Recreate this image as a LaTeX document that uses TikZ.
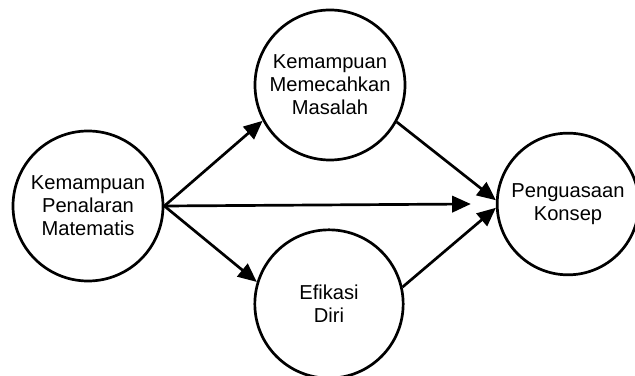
\documentclass[tikz,border=0pt]{standalone}
\usepackage{fontspec}
\setmainfont{Liberation Sans}
\usetikzlibrary{arrows.meta}

\begin{document}
\begin{tikzpicture}[
	x=0.03cm, y=-0.03cm,
	konstruk/.style={ circle, draw, line width=2.3pt, inner sep=0pt, align=center,
		font=\fontsize{17.2pt}{19.5pt}\selectfont },
	panah/.style={ line width=2.3pt, -{Triangle[length=16pt,width=14pt]} }
]
\useasboundingbox (0,0) rectangle (635,376);

\node at (88,206) (penalaran) [konstruk,minimum size=4.5cm] {Kemampuan\\Penalaran\\Matematis};
\node at (330,85) (pemecahan) [konstruk,minimum size=4.5cm] {Kemampuan\\Memecahkan\\Masalah};
\node at (329,304) (efikasi) [konstruk,minimum size=4.45cm] {Efikasi\\Diri};
\node at (568,204) (konsep) [konstruk,minimum size=4.25cm] {Penguasaan\\Konsep};

\draw[panah] (penalaran.east) -- (pemecahan.208);
\draw[panah] (penalaran.east) -- (efikasi.163);
\draw[panah] (penalaran.east) -- ([xshift=-0.75cm]konsep.west);
\draw[panah] (pemecahan.331) -- (konsep.177);
\draw[panah] (efikasi.13) -- (konsep.183);

\end{tikzpicture}
\end{document}
